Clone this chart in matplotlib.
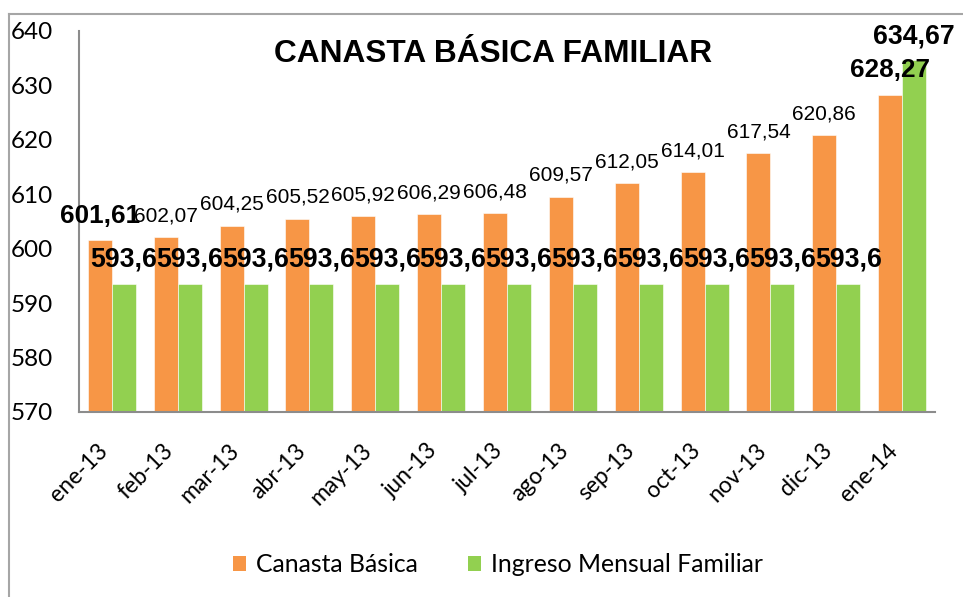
import matplotlib
matplotlib.use("Agg")
import matplotlib.pyplot as plt
import matplotlib.transforms as mtransforms
from matplotlib.patches import Patch
from matplotlib.lines import Line2D

categories = ["ene-13", "feb-13", "mar-13", "abr-13", "may-13", "jun-13", "jul-13",
              "ago-13", "sep-13", "oct-13", "nov-13", "dic-13", "ene-14"]
canasta = [601.61, 602.07, 604.25, 605.52, 605.92, 606.29, 606.48,
           609.57, 612.05, 614.01, 617.54, 620.86, 628.27]
ingreso = [593.6] * 12 + [634.67]
yticks = [570, 580, 590, 600, 610, 620, 630, 640]
title = "CANASTA BÁSICA FAMILIAR"
series_names = ["Canasta Básica", "Ingreso Mensual Familiar"]

ORANGE = "#F79646"
GREEN = "#92D050"

fig = plt.figure(figsize=(9.63, 5.97), dpi=100)
ax = fig.add_axes([79 / 963, 1 - 412 / 597, (935 - 79) / 963, (412 - 31) / 597])

x = list(range(len(categories)))
w = 0.364
ax.bar([i - w / 2 for i in x], [v - 570 for v in canasta], width=w, bottom=570,
       color=ORANGE, edgecolor="white", linewidth=0.4)
ax.bar([i + w / 2 for i in x], [v - 570 for v in ingreso], width=w, bottom=570,
       color=GREEN, edgecolor="white", linewidth=0.4)

def fmt(v, d):
    return f"{v:.{d}f}".replace(".", ",")

n = len(categories)
for i, v in enumerate(canasta):
    bold = (i == 0 or i == n - 1)
    ax.annotate(fmt(v, 2), (i - w / 2, v), xytext=(0, 12.5 if bold else 11.5),
                textcoords="offset points", ha="center", va="baseline",
                fontsize=18.8 if bold else 15,
                fontweight="bold" if bold else "normal",
                family="Liberation Sans", color="black", zorder=5)
for i, v in enumerate(ingreso):
    d = 1 if i < n - 1 else 2
    ax.annotate(fmt(v, d), (i + w / 2, v), xytext=(0, 12),
                textcoords="offset points", ha="center", va="baseline",
                fontsize=19.2, fontweight="bold",
                family="Liberation Sans", color="black", zorder=5)

ax.set_xlim(-0.5, n - 0.5)
ax.set_ylim(570, 640)
ax.set_yticks(yticks)
ax.set_yticklabels([str(t) for t in yticks], family="Lato", fontsize=17.5)
ax.set_xticks(x)
ax.set_xticklabels(categories, family="Lato", fontsize=16.5, rotation=45,
                   ha="right", va="top")
shift = mtransforms.ScaledTranslation(5 / 100, 0, fig.dpi_scale_trans)
for lbl in ax.get_xticklabels():
    lbl.set_transform(lbl.get_transform() + shift)
ax.tick_params(axis="y", length=0, pad=19)
ax.tick_params(axis="x", length=0, pad=20)
for s in ["top", "right"]:
    ax.spines[s].set_visible(False)
for s in ["left", "bottom"]:
    ax.spines[s].set_color("#8c8c8c")
    ax.spines[s].set_linewidth(1.5)

fig.text(493 / 963, 1 - 54 / 597, title, ha="center", va="center",
         family="Liberation Sans", fontweight="bold", fontsize=22.8)

handles = [Patch(facecolor=ORANGE, edgecolor="none"), Patch(facecolor=GREEN, edgecolor="none")]
fig.legend(handles, series_names, loc="center", bbox_to_anchor=(498 / 963, 1 - 565 / 597),
           ncol=2, frameon=False, prop={"family": "Lato", "size": 17.8},
           handlelength=0.55, handleheight=0.55, handletextpad=0.4, columnspacing=2.0)

# outer chart border
fig.add_artist(Line2D([9 / 963, 9 / 963], [0, 1 - 14 / 597], transform=fig.transFigure,
                      color="#a6a6a6", linewidth=1.5))
fig.add_artist(Line2D([9 / 963, 1], [1 - 14 / 597, 1 - 14 / 597], transform=fig.transFigure,
                      color="#a6a6a6", linewidth=1.5))

fig.savefig("out.png", dpi=100)
